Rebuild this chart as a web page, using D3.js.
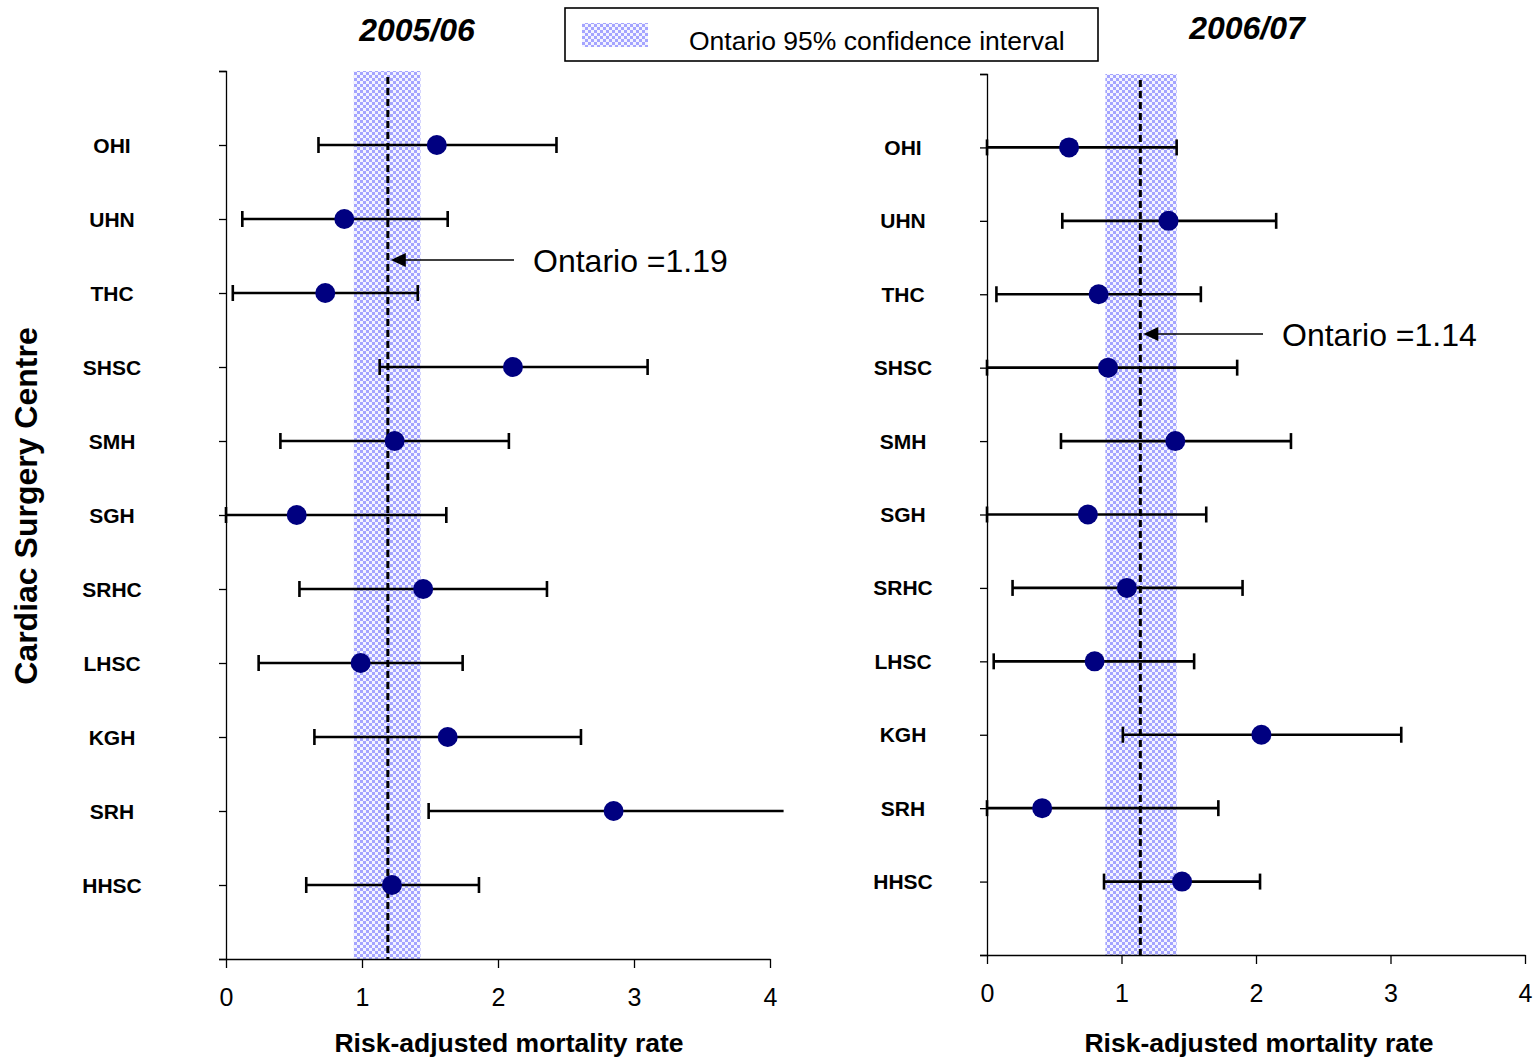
<!DOCTYPE html>
<html>
<head>
<meta charset="utf-8">
<script src="https://cdn.jsdelivr.net/npm/d3@7"></script>
<style>
  html, body { margin: 0; padding: 0; background: #fff; }
  svg { display: block; font-family: "Liberation Sans", Arial, sans-serif; }
</style>
</head>
<body>
<svg id="chart" width="1537" height="1060"></svg>
<script>
// ---------------- DATA ----------------
const categories = ["OHI", "UHN", "THC", "SHSC", "SMH", "SGH", "SRHC", "LHSC", "KGH", "SRH", "HHSC"];
const rate0506  = [1.55, 0.87, 0.73, 2.11, 1.24, 0.52, 1.45, 0.99, 1.63, 2.85, 1.22];
const lower0506 = [0.68, 0.12, 0.05, 1.13, 0.40, 0.00, 0.54, 0.24, 0.65, 1.49, 0.59];
const upper0506 = [2.43, 1.63, 1.41, 3.10, 2.08, 1.62, 2.36, 1.74, 2.61, 4.10, 1.86];
const rate0607  = [0.61, 1.35, 0.83, 0.90, 1.40, 0.75, 1.04, 0.80, 2.04, 0.41, 1.45];
const lower0607 = [0.00, 0.56, 0.07, 0.00, 0.55, 0.00, 0.19, 0.05, 1.01, 0.00, 0.87];
const upper0607 = [1.41, 2.15, 1.59, 1.86, 2.26, 1.63, 1.90, 1.54, 3.08, 1.72, 2.03];
const ontarioRate = [1.19, 1.14];
const ontarioCI0506 = [0.94, 1.43];
const ontarioCI0607 = [0.88, 1.41];
const xTicks = [0, 1, 2, 3, 4];
const panelTitles = ["2005/06", "2006/07"];
const ontarioLabels = ["Ontario =1.19", "Ontario =1.14"];
const legendLabel = "Ontario 95% confidence interval";
const xAxisTitle = "Risk-adjusted mortality rate";
const yAxisTitle = "Cardiac Surgery Centre";

// ---------------- LAYOUT ----------------
const svg = d3.select("#chart");
const defs = svg.append("defs");
const pat = defs.append("pattern").attr("id", "checker")
  .attr("patternUnits", "userSpaceOnUse").attr("width", 6).attr("height", 6);
pat.append("rect").attr("width", 6).attr("height", 6).attr("fill", "#f4f4ff");
pat.append("rect").attr("x", 0).attr("y", 0).attr("width", 3).attr("height", 3).attr("fill", "#a4a4ff");
pat.append("rect").attr("x", 3).attr("y", 3).attr("width", 3).attr("height", 3).attr("fill", "#a4a4ff");

const panels = [
  { title: panelTitles[0], rate: rate0506, lo: lower0506, hi: upper0506, ci: ontarioCI0506, ont: ontarioRate[0],
    ontLabel: ontarioLabels[0], x0: 226, x1: 770, yTop: 71, yBot: 959, labelX: 112, titleX: 417, titleY: 41,
    arrowY: 260, arrowStart: 514, textX: 533, axisTitleX: 509 },
  { title: panelTitles[1], rate: rate0607, lo: lower0607, hi: upper0607, ci: ontarioCI0607, ont: ontarioRate[1],
    ontLabel: ontarioLabels[1], x0: 987, x1: 1525, yTop: 74, yBot: 955, labelX: 903, titleX: 1247, titleY: 39,
    arrowY: 334, arrowStart: 1263, textX: 1282, axisTitleX: 1259 }
];

panels.forEach(p => {
  const x = d3.scaleLinear().domain([0, 4]).range([p.x0, p.x1]);
  const y = d3.scaleLinear().domain([0, 12]).range([p.yBot, p.yTop]);
  const g = svg.append("g");
  const yPos = i => y(categories.length - i);

  // CI band
  g.append("rect")
    .attr("x", x(p.ci[0])).attr("y", y(12))
    .attr("width", x(p.ci[1]) - x(p.ci[0])).attr("height", y(0) - y(12))
    .attr("fill", "url(#checker)");

  // Y axis
  const yAxis = d3.axisLeft(y).tickValues(d3.range(0, 13)).tickSize(7).tickFormat("");
  const ya = g.append("g").attr("transform", `translate(${p.x0},0)`).call(yAxis);
  ya.select(".domain").attr("stroke", "#000").attr("stroke-width", 1.3);
  ya.selectAll(".tick line").attr("stroke", "#000").attr("stroke-width", 1.3);

  // X axis
  const xAxis = d3.axisBottom(x).tickValues(xTicks).tickSize(9).tickSizeOuter(0).tickFormat(d3.format("d"));
  const xa = g.append("g").attr("transform", `translate(0,${p.yBot})`).call(xAxis);
  xa.select(".domain").attr("stroke", "#000").attr("stroke-width", 1.3);
  xa.selectAll(".tick line").attr("stroke", "#000").attr("stroke-width", 1.3);
  xa.selectAll(".tick text").attr("font-size", 25).attr("fill", "#000").attr("dy", "1.4em")
    .attr("font-family", "Liberation Sans, Arial, sans-serif");

  // Ontario dashed line
  g.append("line")
    .attr("x1", x(p.ont)).attr("x2", x(p.ont))
    .attr("y1", y(12) + 6).attr("y2", y(0))
    .attr("stroke", "#000").attr("stroke-width", 3).attr("stroke-dasharray", "7,4");

  // Error bars
  const capH = 8;
  categories.forEach((c, i) => {
    const yy = yPos(i);
    const hiVal = Math.min(p.hi[i], 4.1);
    g.append("line").attr("x1", x(p.lo[i])).attr("x2", x(hiVal))
      .attr("y1", yy).attr("y2", yy).attr("stroke", "#000").attr("stroke-width", 2.6);
    g.append("line").attr("x1", x(p.lo[i])).attr("x2", x(p.lo[i]))
      .attr("y1", yy - capH).attr("y2", yy + capH).attr("stroke", "#000").attr("stroke-width", 2.6);
    if (p.hi[i] <= 4) {
      g.append("line").attr("x1", x(p.hi[i])).attr("x2", x(p.hi[i]))
        .attr("y1", yy - capH).attr("y2", yy + capH).attr("stroke", "#000").attr("stroke-width", 2.6);
    }
  });

  // Points
  g.selectAll("circle.pt").data(p.rate).join("circle").attr("class", "pt")
    .attr("cx", d => x(d)).attr("cy", (d, i) => yPos(i)).attr("r", 10).attr("fill", "#000080");

  // Category labels
  g.selectAll("text.cat").data(categories).join("text").attr("class", "cat")
    .attr("x", p.labelX).attr("y", (d, i) => yPos(i))
    .attr("dy", "0.36em").attr("text-anchor", "middle")
    .attr("font-size", 21).attr("font-weight", "bold").text(d => d);

  // Panel title
  g.append("text").attr("x", p.titleX).attr("y", p.titleY).attr("text-anchor", "middle")
    .attr("font-size", 32).attr("font-weight", "bold").attr("font-style", "italic").text(p.title);

  // X axis title
  g.append("text").attr("x", p.axisTitleX).attr("y", 1052).attr("text-anchor", "middle")
    .attr("font-size", 26.5).attr("font-weight", "bold").text(xAxisTitle);

  // Ontario annotation arrow
  const tipX = x(p.ont) + 3;
  g.append("line").attr("x1", p.arrowStart).attr("x2", tipX + 12)
    .attr("y1", p.arrowY).attr("y2", p.arrowY).attr("stroke", "#000").attr("stroke-width", 1.6);
  g.append("path")
    .attr("d", `M${tipX},${p.arrowY} L${tipX + 15},${p.arrowY - 7} L${tipX + 15},${p.arrowY + 7} Z`)
    .attr("fill", "#000");
  g.append("text").attr("x", p.textX).attr("y", p.arrowY).attr("dy", "0.36em")
    .attr("font-size", 32).text(p.ontLabel);
});

// Y axis title
svg.append("text")
  .attr("transform", "translate(37,506) rotate(-90)")
  .attr("text-anchor", "middle").attr("font-size", 32).attr("font-weight", "bold")
  .text(yAxisTitle);

// Legend
const lg = svg.append("g");
lg.append("rect").attr("x", 565).attr("y", 8).attr("width", 533).attr("height", 53)
  .attr("fill", "#fff").attr("stroke", "#000").attr("stroke-width", 1.6);
lg.append("rect").attr("x", 582).attr("y", 23).attr("width", 66).attr("height", 24)
  .attr("fill", "url(#checker)");
lg.append("text").attr("x", 689).attr("y", 40).attr("dy", "0.36em")
  .attr("font-size", 26.5).text(legendLabel);
</script>
</body>
</html>
